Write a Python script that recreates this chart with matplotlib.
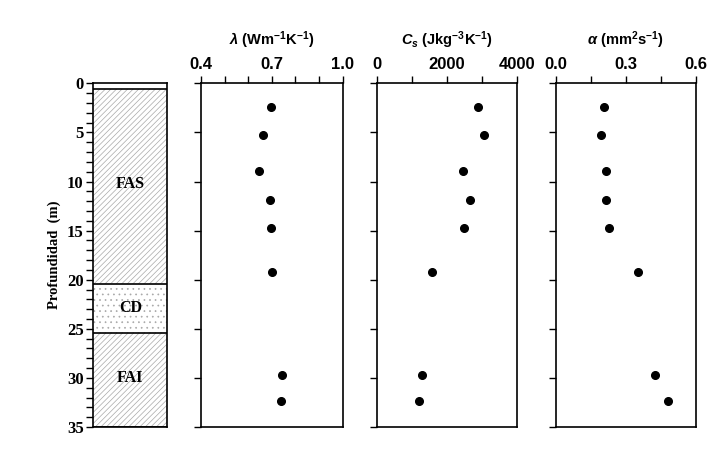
import matplotlib
matplotlib.use("Agg")
import matplotlib.pyplot as plt
from matplotlib.patches import Rectangle
from matplotlib.ticker import MultipleLocator
import numpy as np

# ---- data ----
depth = [2.4, 5.3, 8.9, 11.9, 14.75, 19.2, 29.7, 32.4]
lam = [0.698, 0.662, 0.645, 0.692, 0.696, 0.700, 0.744, 0.739]
cs = [2875, 3055, 2454, 2645, 2483, 1557, 1288, 1190]
alpha = [0.206, 0.192, 0.215, 0.215, 0.228, 0.352, 0.426, 0.480]

layer_names = ["", "FAS", "CD", "FAI"]
layer_tops = [0.0, 0.6, 20.4, 25.4]
layer_bottoms = [0.6, 20.4, 25.4, 35.0]
layer_hatch = [None, "//////", "...", "//////"]
label_depths = [None, 10.3, 22.9, 30.0]

plt.rcParams["mathtext.fontset"] = "custom"
plt.rcParams["mathtext.rm"] = "Liberation Sans:bold"
plt.rcParams["mathtext.it"] = "Liberation Sans:bold:italic"
plt.rcParams["mathtext.bf"] = "Liberation Sans:bold"
plt.rcParams["hatch.linewidth"] = 0.5

fig = plt.figure(figsize=(7.25, 4.59), dpi=100)
bot, h = 0.0697, 0.7488
ax0 = fig.add_axes([0.1287, bot, 0.102, h])
ax1 = fig.add_axes([0.2772, bot, 0.1954, h])
ax2 = fig.add_axes([0.5204, bot, 0.1927, h])
ax3 = fig.add_axes([0.7669, bot, 0.1927, h])

serif = "Liberation Serif"
sans = "Liberation Sans"

# lithology column
ax0.set_xlim(0, 1)
ax0.set_ylim(35, 0)
for name, t, b, hatch, ld in zip(layer_names, layer_tops, layer_bottoms, layer_hatch, label_depths):
    if hatch:
        ax0.add_patch(Rectangle((0, t), 1, b - t, facecolor="white", edgecolor="#a8a8a8",
                                hatch=hatch, linewidth=0))
    ax0.axhline(b, color="black", lw=1.2)
    if name:
        ax0.text(0.5, ld, name, ha="center", va="center", fontsize=11.5, fontweight="bold",
                 family=serif)
ax0.set_xticks([])
ax0.yaxis.set_major_locator(MultipleLocator(5))
ax0.yaxis.set_minor_locator(MultipleLocator(1))
ax0.tick_params(axis="y", which="both", direction="out", length=5, width=1, pad=2)
for lab in ax0.get_yticklabels():
    lab.set_fontfamily(serif)
    lab.set_fontweight("bold")
    lab.set_fontsize(12)
ax0.set_ylabel("Profundidad  (m)", family=serif, fontweight="bold", fontsize=10.5, labelpad=4)
for sp in ax0.spines.values():
    sp.set_linewidth(1.2)

panels = [
    (ax1, lam, (0.4, 1.0), [0.4, 0.7, 1.0], ["0.4", "0.7", "1.0"], 0.1, r"$\lambda$ (Wm$^{-1}$K$^{-1}$)"),
    (ax2, cs, (0, 4000), [0, 2000, 4000], ["0", "2000", "4000"], 1000, r"$C_s$ (Jkg$^{-3}$K$^{-1}$)"),
    (ax3, alpha, (0.0, 0.6), [0.0, 0.3, 0.6], ["0.0", "0.3", "0.6"], 0.15, r"$\alpha$ (mm$^{2}$s$^{-1}$)"),
]
for ax, vals, xl, ticks, tlabels, minor, title in panels:
    ax.plot(vals, depth, "o", color="black", markersize=5.5, linestyle="none")
    ax.set_xlim(*xl)
    ax.set_ylim(35, 0)
    ax.xaxis.tick_top()
    ax.set_xticks(ticks)
    ax.set_xticklabels(tlabels, fontfamily=sans, fontweight="bold", fontsize=12)
    ax.xaxis.set_minor_locator(MultipleLocator(minor))
    ax.tick_params(axis="x", which="both", direction="out", length=5, width=1, pad=3)
    ax.yaxis.set_major_locator(MultipleLocator(5))
    ax.tick_params(axis="y", which="major", direction="out", length=5, width=1, labelleft=False)
    ax.text(0.5, 1.126, title, transform=ax.transAxes, ha="center", va="center",
            fontsize=10.5, fontweight="bold", family=sans)
    for sp in ax.spines.values():
        sp.set_linewidth(1.2)

fig.savefig("out.png", dpi=100)
